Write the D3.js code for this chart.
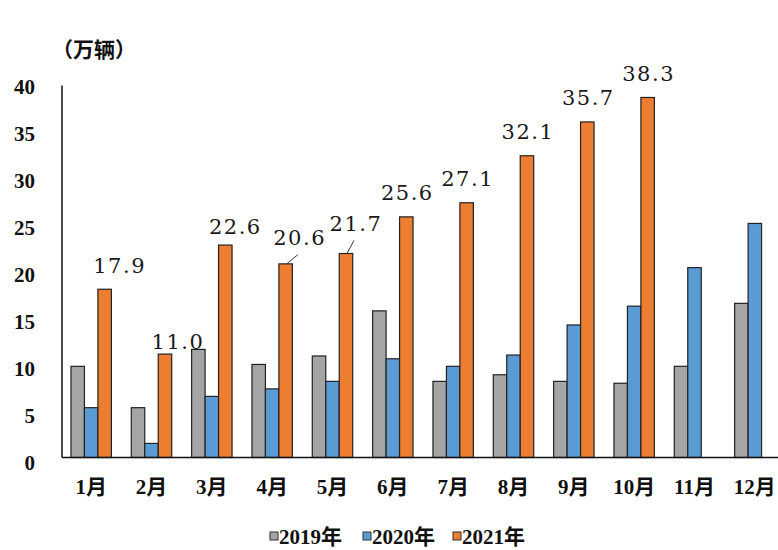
<!DOCTYPE html>
<html lang="zh">
  <head>
    <meta charset="UTF-8" />
    <title>月度销量</title>
    <script src="https://d3js.org/d3.v7.min.js"></script>
    <style>
      body { margin: 0; background: #fff; }
      svg { display: block; }
    </style>
  </head>
  <body>
    <svg width="778" height="550"></svg>
    <script>
      // data (万辆)
      const months = ['1月', '2月', '3月', '4月', '5月', '6月', '7月', '8月', '9月', '10月', '11月', '12月'];
      const years = ['2019年', '2020年', '2021年'];
      const v2019 = [9.7, 5.3, 11.5, 9.9, 10.8, 15.6, 8.1, 8.8, 8.1, 7.9, 9.7, 16.4];
      const v2020 = [5.3, 1.5, 6.5, 7.3, 8.1, 10.5, 9.7, 10.9, 14.1, 16.1, 20.2, 24.9];
      const v2021 = [17.9, 11.0, 22.6, 20.6, 21.7, 25.6, 27.1, 32.1, 35.7, 38.3, null, null];
      const yTicks = [0, 5, 10, 15, 20, 25, 30, 35, 40];

      // layout tweaks for the 2021 labels that were dragged off-centre in the source
      const labelShift = [[14, 0], [12, 11], [9, 5], [13, -2], [9, -6], [0, 0], [0, 0], [0, 0], [0, 0], [0, 0], [0, 0], [0, 0]];
      const leaderLine = [false, false, false, true, true, false, false, false, false, false, false, false];

      const colors = ['#a5a5a5', '#5b9bd5', '#ed7d31'];
      const series = [v2019, v2020, v2021];
      const serif = '"Liberation Serif", "DejaVu Serif", "Noto Sans CJK SC", serif';

      const svg = d3.select('svg');

      const x0 = d3.scaleBand().domain(months).range([61, 785]).paddingInner(0.33).paddingOuter(0.165);
      const x1 = d3.scaleBand().domain(years).range([0, x0.bandwidth()]);
      const y = d3.scaleLinear().domain([0, 40]).range([457.5, 81.5]);

      // bars
      const groups = svg
        .append('g')
        .selectAll('g')
        .data(months)
        .join('g')
        .attr('transform', (d) => `translate(${x0(d)},0)`);

      groups
        .selectAll('rect')
        .data((m, i) => years.map((yr, k) => ({ yr, k, v: series[k][i] })).filter((d) => d.v != null))
        .join('rect')
        .attr('x', (d) => x1(d.yr))
        .attr('y', (d) => y(d.v))
        .attr('width', x1.bandwidth())
        .attr('height', (d) => y(0) - y(d.v))
        .attr('fill', (d) => colors[d.k])
        .attr('stroke', '#222')
        .attr('stroke-width', 1.2);

      // axes lines
      svg.append('line').attr('x1', 62).attr('x2', 778).attr('y1', y(0)).attr('y2', y(0))
        .attr('stroke', '#111').attr('stroke-width', 1.5);
      svg.append('line').attr('x1', 62).attr('x2', 62).attr('y1', y(40) + 4).attr('y2', y(0))
        .attr('stroke', '#111').attr('stroke-width', 1.5);

      // y tick labels
      svg
        .append('g')
        .selectAll('text')
        .data(yTicks)
        .join('text')
        .attr('x', 35)
        .attr('y', (d) => y(d) + 5)
        .attr('dy', '0.35em')
        .attr('text-anchor', 'end')
        .attr('font-family', serif)
        .attr('font-weight', 'bold')
        .attr('font-size', 21)
        .attr('fill', '#111')
        .text((d) => d);

      // month labels
      svg
        .append('g')
        .selectAll('text')
        .data(months)
        .join('text')
        .attr('x', (d) => x0(d) + x0.bandwidth() / 2)
        .attr('y', 494)
        .attr('text-anchor', 'middle')
        .attr('font-family', serif)
        .attr('font-weight', 'bold')
        .attr('font-size', 21)
        .attr('fill', '#111')
        .text((d) => d);

      // unit
      svg.append('text').attr('x', 52).attr('y', 57)
        .attr('font-family', '"Noto Sans CJK SC", sans-serif')
        .attr('font-weight', 'bold').attr('font-size', 21).attr('fill', '#111')
        .text('（万辆）');

      // 2021 value labels
      const labels = months
        .map((m, i) => {
          const v = v2021[i];
          if (v == null) return null;
          const cx = x0(m) + x1('2021年') + x1.bandwidth() / 2;
          const top = y(v);
          const lx = cx + labelShift[i][0];
          const ly = top - 24 + labelShift[i][1];
          return { v, cx, top, lx, ly, lead: leaderLine[i] };
        })
        .filter((d) => d);

      svg
        .append('g')
        .selectAll('text')
        .data(labels)
        .join('text')
        .attr('x', (d) => d.lx + 1)
        .attr('y', (d) => d.ly)
        .attr('dy', '0.36em')
        .attr('text-anchor', 'middle')
        .attr('font-family', '"DejaVu Serif", serif')
        .attr('font-size', 21)
        .attr('letter-spacing', 1.5)
        .attr('fill', '#1a1a1a')
        .text((d) => d3.format('.1f')(d.v));

      svg
        .append('g')
        .selectAll('line')
        .data(labels.filter((d) => d.lead))
        .join('line')
        .attr('x1', (d) => d.cx + 1)
        .attr('y1', (d) => d.top)
        .attr('x2', (d) => d.lx - 1)
        .attr('y2', (d) => d.ly + 17)
        .attr('stroke', '#333')
        .attr('stroke-width', 1);

      // legend
      const legend = svg.append('g').attr('transform', 'translate(270,536)');
      const offs = [0, 93, 183];
      years.forEach((yr, k) => {
        const g = legend.append('g').attr('transform', `translate(${offs[k]},0)`);
        g.append('rect').attr('x', 0).attr('y', -4).attr('width', 8).attr('height', 8)
          .attr('fill', colors[k]).attr('stroke', '#333').attr('stroke-width', 1);
        g.append('text').attr('x', 9).attr('y', 0).attr('dy', '0.36em')
          .attr('font-family', serif)
          .attr('font-weight', 'bold').attr('font-size', 21).attr('fill', '#111')
          .text(yr);
      });
    </script>
  </body>
</html>
